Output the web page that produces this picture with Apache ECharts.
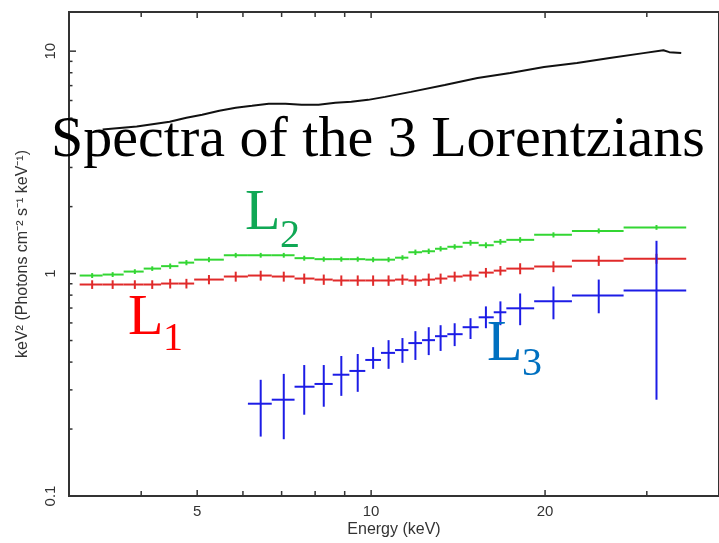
<!DOCTYPE html>
<html><head><meta charset="utf-8">
<script src="https://cdn.jsdelivr.net/npm/echarts@6/dist/echarts.min.js"></script>
<style>html,body{margin:0;padding:0;background:#fff}#c{width:719px;height:543px}</style>
</head><body><div id="c"></div>
<script>
// Energy bins (keV)
const binCenter = [3.29,3.57,3.90,4.18,4.49,4.79,5.24,5.83,6.44,7.06,7.66,8.28,8.88,9.48,10.08,10.72,11.33,11.93,12.58,13.19,13.95,14.86,15.80,16.74,18.11,20.68,24.77,31.18];
const binLo = [3.13,3.43,3.73,4.04,4.33,4.64,4.94,5.56,6.12,6.73,7.37,7.98,8.58,9.17,9.77,10.4,11.0,11.6,12.25,12.9,13.55,14.4,15.35,16.3,17.14,19.15,22.26,27.35];
const binHi = [3.43,3.73,4.04,4.33,4.64,4.94,5.56,6.12,6.73,7.37,7.98,8.58,9.17,9.77,10.4,11.0,11.6,12.25,12.9,13.55,14.4,15.35,16.3,17.14,19.15,22.26,27.35,35.1];
// L1 (red)
const L1 = [0.893,0.893,0.893,0.893,0.902,0.902,0.940,0.970,0.980,0.970,0.950,0.940,0.931,0.931,0.931,0.931,0.940,0.931,0.940,0.950,0.970,0.980,1.010,1.031,1.053,1.075,1.143,1.167];
const L1Err = [0.04,0.04,0.04,0.04,0.045,0.045,0.045,0.05,0.05,0.05,0.05,0.05,0.05,0.05,0.05,0.05,0.05,0.05,0.06,0.05,0.05,0.05,0.05,0.05,0.06,0.06,0.06,0.06];
// L2 (green)
const L2 = [0.980,0.990,1.021,1.053,1.080,1.120,1.155,1.209,1.209,1.209,1.173,1.161,1.161,1.161,1.155,1.155,1.179,1.247,1.260,1.293,1.320,1.375,1.341,1.390,1.418,1.493,1.556,1.613];
const L2Err = [0.025,0.025,0.025,0.025,0.03,0.03,0.03,0.03,0.03,0.03,0.03,0.03,0.03,0.03,0.03,0.03,0.03,0.035,0.035,0.035,0.035,0.04,0.04,0.04,0.04,0.04,0.04,0.04];
// L3 (blue)
const L3 = [null,null,null,null,null,null,null,null,0.260,0.271,0.310,0.319,0.351,0.365,0.409,0.440,0.453,0.487,0.502,0.523,0.534,0.574,0.636,0.670,0.698,0.750,0.798,0.840];
const L3Lo = [null,null,null,null,null,null,null,null,0.185,0.180,0.232,0.252,0.282,0.294,0.373,0.373,0.397,0.409,0.430,0.449,0.472,0.508,0.568,0.586,0.586,0.623,0.663,0.271];
const L3Hi = [null,null,null,null,null,null,null,null,0.333,0.354,0.388,0.388,0.426,0.435,0.467,0.502,0.513,0.551,0.574,0.586,0.598,0.630,0.712,0.750,0.814,0.875,0.940,1.404];
// Total spectrum (black)
const totalE = [3.43,3.93,4.48,4.79,5.10,5.46,5.83,6.22,6.65,7.11,7.58,8.11,8.67,9.24,9.88,10.57,11.72,13.41,15.28,17.41,19.92,22.71,25.88,29.60,32.05,32.82,34.41];
const totalV = [4.44,4.58,4.82,5.02,5.18,5.40,5.57,5.68,5.80,5.80,5.74,5.74,5.86,5.92,6.04,6.23,6.56,7.05,7.58,7.98,8.48,8.84,9.31,9.80,10.10,9.90,9.80];
// Axis ticks
const xMajorTicks = [5,10,20];
const xMinorTicks = [4,6,7,8,9,30];
const yMajorTicks = [0.1,1,10];
const yMinorTicks = [0.2,0.3,0.4,0.5,0.6,0.7,0.8,0.9,2,3,4,5,6,7,8,9];
const xMin = 3, xMax = 40, yMin = 0.1, yMax = 15;

const AX = '#333';
function errData(vals, lo, hi) {
  const d = [];
  vals.forEach((v, i) => { if (v == null) return; d.push([binCenter[i], v, binLo[i], binHi[i], lo[i], hi[i]]); });
  return d;
}
function errSeries(data, color, lw) {
  return {
    type: 'custom', data, clip: true, silent: true,
    encode: { x: 0, y: 1 },
    renderItem(params, api) {
      const l = api.coord([api.value(2), api.value(1)]);
      const r = api.coord([api.value(3), api.value(1)]);
      const b = api.coord([api.value(0), api.value(4)]);
      const t = api.coord([api.value(0), api.value(5)]);
      return { type: 'group', children: [
        { type: 'line', shape: { x1: l[0], y1: l[1], x2: r[0], y2: r[1] }, style: { stroke: color, lineWidth: lw } },
        { type: 'line', shape: { x1: b[0], y1: b[1], x2: t[0], y2: t[1] }, style: { stroke: color, lineWidth: lw } }
      ]};
    }
  };
}
const xTickData = xMajorTicks.map(v => [v, 1, 1]).concat(xMinorTicks.map(v => [v, 1, 0]));
const yTickData = yMajorTicks.map(v => [xMin, v, 1]).concat(yMinorTicks.map(v => [xMin, v, 0]));

const option = {
  animation: false,
  backgroundColor: '#fff',
  grid: { left: 69, top: 12, bottom: 44, right: -4, show: true, borderColor: AX, borderWidth: 2, backgroundColor: 'transparent' },
  xAxis: {
    type: 'log', logBase: 10, min: xMin, max: xMax,
    axisLine: { show: false }, axisTick: { show: false }, axisLabel: { show: false }, splitLine: { show: false },
    name: 'Energy (keV)', nameLocation: 'middle', nameGap: 26,
    nameTextStyle: { fontFamily: 'Liberation Sans', fontSize: 16, color: AX }
  },
  yAxis: {
    type: 'log', logBase: 10, min: yMin, max: yMax,
    axisLine: { show: false }, axisTick: { show: false }, axisLabel: { show: false }, splitLine: { show: false },
    name: 'keV\u00B2 (Photons cm\u207B\u00B2 s\u207B\u00B9 keV\u207B\u00B9)', nameLocation: 'middle', nameGap: 38, nameRotate: 90,
    nameTextStyle: { fontFamily: 'Liberation Sans', fontSize: 16, color: AX }
  },
  series: [
    {
      type: 'line', data: totalE.map((e, i) => [e, totalV[i]]), showSymbol: false, silent: true,
      lineStyle: { color: '#111', width: 2 }, z: 3
    },
    errSeries(errData(L2, L2.map((v, i) => v - L2Err[i]), L2.map((v, i) => v + L2Err[i])), '#33d633', 2),
    errSeries(errData(L1, L1.map((v, i) => v - L1Err[i]), L1.map((v, i) => v + L1Err[i])), '#e02a2a', 2),
    errSeries(errData(L3, L3Lo, L3Hi), '#1c1ce6', 2),
    {
      type: 'custom', data: xTickData, silent: true, clip: false, encode: { x: 0, y: 1 },
      renderItem(params, api) {
        const v = api.value(0), major = api.value(2);
        const b = api.coord([v, yMin]), t = api.coord([v, yMax]);
        const len = major ? 6 : 5;
        const ch = [
          { type: 'line', shape: { x1: b[0], y1: b[1], x2: b[0], y2: b[1] - len }, style: { stroke: AX, lineWidth: 1.5 } },
          { type: 'line', shape: { x1: t[0], y1: t[1], x2: t[0], y2: t[1] + len }, style: { stroke: AX, lineWidth: 1.5 } }
        ];
        if (major) ch.push({ type: 'text', x: b[0], y: b[1] + 16, style: { text: String(v), font: '15px "Liberation Sans"', fill: AX, align: 'center', verticalAlign: 'middle', textAlign: 'center', textVerticalAlign: 'middle' } });
        return { type: 'group', children: ch };
      }
    },
    {
      type: 'custom', data: yTickData, silent: true, clip: false, encode: { x: 0, y: 1 },
      renderItem(params, api) {
        const v = api.value(1), major = api.value(2);
        const p = api.coord([xMin, v]);
        const len = major ? 7 : 3.5;
        const ch = [
          { type: 'line', shape: { x1: p[0], y1: p[1], x2: p[0] + len, y2: p[1] }, style: { stroke: AX, lineWidth: 1.5 } }
        ];
        if (major) ch.push({ type: 'text', x: p[0] - 18, y: p[1], rotation: Math.PI / 2, style: { text: String(v), font: '15px "Liberation Sans"', fill: AX, align: 'center', verticalAlign: 'middle', textAlign: 'center', textVerticalAlign: 'middle' } });
        return { type: 'group', children: ch };
      }
    }
  ],
  graphic: [
    { type: 'text', x: 378, y: 141, z: 100, style: { text: 'Spectra of the 3 Lorentzians', font: '58px "Liberation Serif"', fill: '#000', textAlign: 'center', textVerticalAlign: 'middle', align: 'center', verticalAlign: 'middle' } },
    { type: 'text', x: 245, y: 214, z: 100, style: { text: 'L', font: '58px "Liberation Serif"', fill: '#10a855', textAlign: 'left', textVerticalAlign: 'middle', align: 'left', verticalAlign: 'middle' } },
    { type: 'text', x: 280, y: 236, z: 100, style: { text: '2', font: '40px "Liberation Serif"', fill: '#10a855', textAlign: 'left', textVerticalAlign: 'middle', align: 'left', verticalAlign: 'middle' } },
    { type: 'text', x: 128, y: 319, z: 100, style: { text: 'L', font: '58px "Liberation Serif"', fill: '#ff0000', textAlign: 'left', textVerticalAlign: 'middle', align: 'left', verticalAlign: 'middle' } },
    { type: 'text', x: 163, y: 339, z: 100, style: { text: '1', font: '40px "Liberation Serif"', fill: '#ff0000', textAlign: 'left', textVerticalAlign: 'middle', align: 'left', verticalAlign: 'middle' } },
    { type: 'text', x: 487, y: 345, z: 100, style: { text: 'L', font: '58px "Liberation Serif"', fill: '#0070c0', textAlign: 'left', textVerticalAlign: 'middle', align: 'left', verticalAlign: 'middle' } },
    { type: 'text', x: 522, y: 364, z: 100, style: { text: '3', font: '40px "Liberation Serif"', fill: '#0070c0', textAlign: 'left', textVerticalAlign: 'middle', align: 'left', verticalAlign: 'middle' } }
  ]
};
const chart = echarts.init(document.getElementById('c'));
chart.setOption(option);
</script>
</body></html>
